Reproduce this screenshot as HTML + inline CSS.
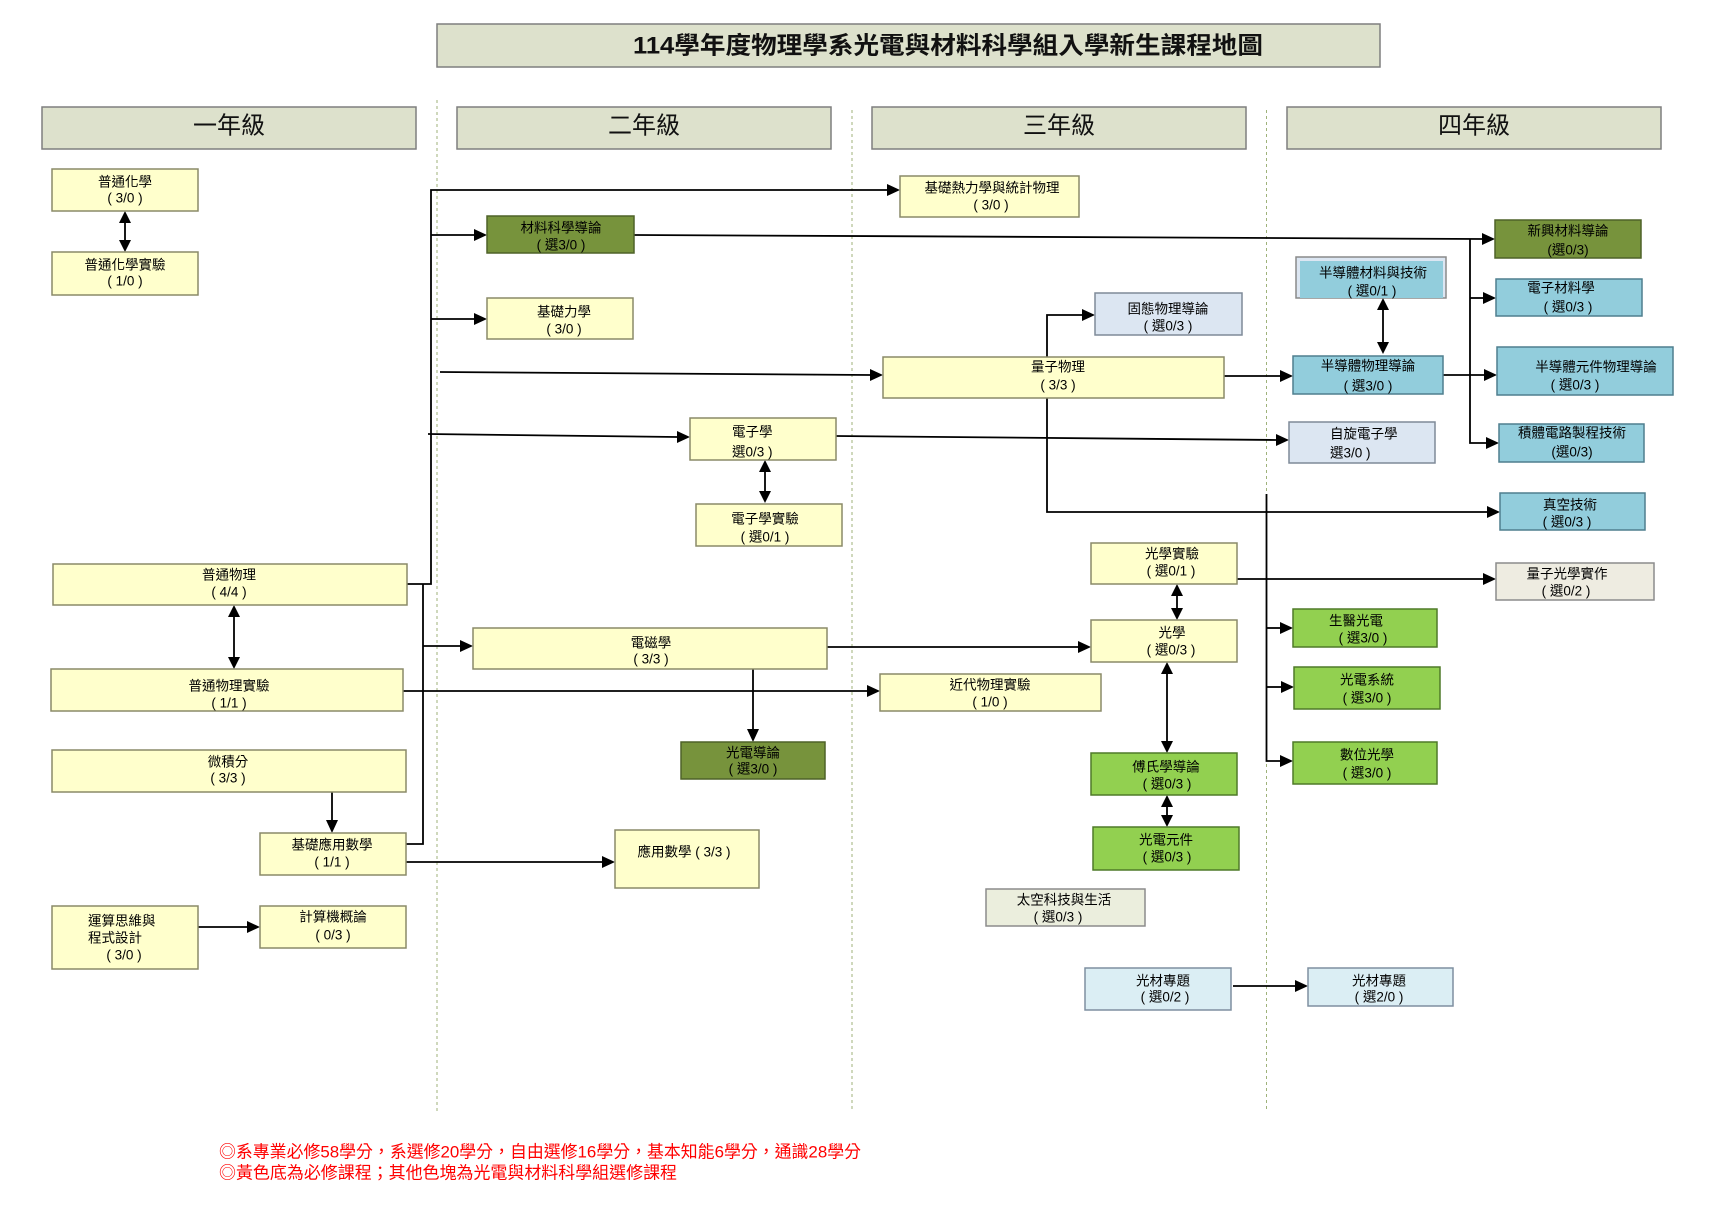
<!DOCTYPE html>
<html>
<head>
<meta charset="utf-8">
<style>
html,body{margin:0;padding:0;background:#fff;}
svg{display:block;}
text{font-family:"Liberation Sans","Noto Sans CJK TC",sans-serif;}
.t{font-size:13.5px;fill:#000;dominant-baseline:central;text-anchor:middle;}
.tl{font-size:13.5px;fill:#000;dominant-baseline:central;text-anchor:start;}
.hd{font-size:24px;fill:#111;dominant-baseline:central;text-anchor:middle;}
.Y{fill:#ffffcc;stroke:#8a8a68;stroke-width:1.5;}
.O{fill:#77933c;stroke:#4f6228;stroke-width:1.5;}
.B{fill:#92cddc;stroke:#4f7f8e;stroke-width:1.5;}
.LB{fill:#dce6f2;stroke:#7f8a98;stroke-width:1.5;}
.G{fill:#92d050;stroke:#4f7a28;stroke-width:1.5;}
.BG{fill:#eeece1;stroke:#8c8c8c;stroke-width:1.5;}
.SG{fill:#ebeedd;stroke:#8c8c8c;stroke-width:1.5;}
.PB{fill:#dbeef4;stroke:#7f8fa0;stroke-width:1.5;}
.H{fill:#dde1cc;stroke:#7f7f7f;stroke-width:1.5;}
.c{fill:none;stroke:#000;stroke-width:1.8;}
.sep{stroke:#9fb27a;stroke-width:1;stroke-dasharray:3,3;fill:none;}
</style>
</head>
<body>
<svg width="1712" height="1229" viewBox="0 0 1712 1229" xmlns="http://www.w3.org/2000/svg">
<rect x="0" y="0" width="1712" height="1229" fill="#fff"/>

<!-- Title -->
<rect class="H" x="437" y="24" width="943" height="43"/>
<text x="633" y="46" font-size="24" font-weight="bold" dominant-baseline="central" textLength="630" lengthAdjust="spacingAndGlyphs" fill="#111">114學年度物理學系光電與材料科學組入學新生課程地圖</text>

<!-- Separators -->
<line class="sep" x1="437" y1="100" x2="437" y2="1112"/>
<line class="sep" x1="852" y1="110" x2="852" y2="1112"/>
<line class="sep" x1="1266.5" y1="110" x2="1266.5" y2="1112"/>

<!-- Headers -->
<rect class="H" x="42" y="107" width="374" height="42"/>
<text class="hd" x="229" y="126">一年級</text>
<rect class="H" x="457" y="107" width="374" height="42"/>
<text class="hd" x="644" y="126">二年級</text>
<rect class="H" x="872" y="107" width="374" height="42"/>
<text class="hd" x="1059" y="126">三年級</text>
<rect class="H" x="1287" y="107" width="374" height="42"/>
<text class="hd" x="1474" y="126">四年級</text>

<!-- Connectors -->
<g class="c">
<path d="M125 222 V241"/>
<path d="M402 584 H431 V190 H887"/>
<path d="M431 235 H474"/>
<path d="M431 319 H474"/>
<path d="M440 372 L870 375"/>
<path d="M428 434 L677 437"/>
<path d="M405 844 H423 V584"/>
<path d="M423 646 H460"/>
<path d="M403 691 H867"/>
<path d="M827 647 H1078"/>
<path d="M753 669 V729"/>
<path d="M332 792 V820"/>
<path d="M406 862 H602"/>
<path d="M198 927 H247"/>
<path d="M634 235 L1482 239"/>
<path d="M1470 239 V443 H1486"/>
<path d="M1470 298 H1483"/>
<path d="M1443 375 H1484"/>
<path d="M1383 309 V345"/>
<path d="M1047 357 V315 H1082"/>
<path d="M1224 376 H1280"/>
<path d="M1047 398 V512 H1487"/>
<path d="M836 436 L1276 440"/>
<path d="M1266.5 494 V761 H1280"/>
<path d="M1266.5 628 H1280"/>
<path d="M1266.5 687 H1281"/>
<path d="M1237 579 H1483"/>
<path d="M1177 595 V609"/>
<path d="M1167 673 V742"/>
<path d="M1167 806 V816"/>
<path d="M765 471 V492"/>
<path d="M234 616 V658"/>
<path d="M1233 986 H1295"/>
</g>

<!-- Arrowheads -->
<g fill="#000">
<polygon points="125,211 119,223 131,223"/>
<polygon points="125,252 119,240 131,240"/>
<polygon points="900,190 887,184 887,196"/>
<polygon points="487,235 474,229 474,241"/>
<polygon points="487,319 474,313 474,325"/>
<polygon points="883,375 870,369 870,381"/>
<polygon points="690,437 677,431 677,443"/>
<polygon points="473,646 460,640 460,652"/>
<polygon points="880,691 867,685 867,697"/>
<polygon points="1091,647 1078,641 1078,653"/>
<polygon points="753,742 747,729 759,729"/>
<polygon points="332,833 326,820 338,820"/>
<polygon points="615,862 602,856 602,868"/>
<polygon points="260,927 247,921 247,933"/>
<polygon points="1495,239 1482,233 1482,245"/>
<polygon points="1499,443 1486,437 1486,449"/>
<polygon points="1496,298 1483,292 1483,304"/>
<polygon points="1497,375 1484,369 1484,381"/>
<polygon points="1095,315 1082,309 1082,321"/>
<polygon points="1293,376 1280,370 1280,382"/>
<polygon points="1500,512 1487,506 1487,518"/>
<polygon points="1289,440 1276,434 1276,446"/>
<polygon points="1293,761 1280,755 1280,767"/>
<polygon points="1293,628 1280,622 1280,634"/>
<polygon points="1294,687 1281,681 1281,693"/>
<polygon points="1496,579 1483,573 1483,585"/>
<polygon points="1308,986 1295,980 1295,992"/>
<polygon points="1383,298 1377,310 1389,310"/>
<polygon points="1383,354 1377,342 1389,342"/>
<polygon points="1177,584 1171,596 1183,596"/>
<polygon points="1177,620 1171,608 1183,608"/>
<polygon points="1167,662 1161,674 1173,674"/>
<polygon points="1167,753 1161,741 1173,741"/>
<polygon points="1167,795 1161,807 1173,807"/>
<polygon points="1167,827 1161,815 1173,815"/>
<polygon points="765,460 759,472 771,472"/>
<polygon points="765,503 759,491 771,491"/>
<polygon points="234,605 228,617 240,617"/>
<polygon points="234,669 228,657 240,657"/>
</g>

<!-- Boxes -->
<rect class="Y" x="52" y="169" width="146" height="42"/>
<text class="t" x="125" y="182">普通化學</text><text class="t" x="125" y="198">( 3/0 )</text>

<rect class="Y" x="52" y="252" width="146" height="43"/>
<text class="t" x="125" y="265">普通化學實驗</text><text class="t" x="125" y="281">( 1/0 )</text>

<rect class="O" x="487" y="216" width="147" height="37"/>
<text class="t" x="561" y="228">材料科學導論</text><text class="t" x="561" y="245">( 選3/0 )</text>

<rect class="Y" x="487" y="298" width="146" height="41"/>
<text class="t" x="564" y="312">基礎力學</text><text class="t" x="564" y="329">( 3/0 )</text>

<rect class="Y" x="900" y="176" width="179" height="41"/>
<text class="t" x="992" y="188">基礎熱力學與統計物理</text><text class="t" x="991" y="205">( 3/0 )</text>

<rect class="O" x="1495" y="220" width="146" height="38"/>
<text class="t" x="1568" y="231">新興材料導論</text><text class="t" x="1568" y="250">(選0/3)</text>

<rect x="1296" y="257" width="150" height="41" fill="#dce6f2" stroke="#8a8a8a" stroke-width="1.5"/>
<rect x="1300" y="261" width="143" height="37" fill="#92cddc"/>
<text class="t" x="1373" y="273">半導體材料與技術</text><text class="t" x="1372" y="291">( 選0/1 )</text>

<rect class="B" x="1496" y="279" width="146" height="37"/>
<text class="t" x="1561" y="288">電子材料學</text><text class="t" x="1568" y="307">( 選0/3 )</text>

<rect class="LB" x="1095" y="293" width="147" height="42"/>
<text class="t" x="1168" y="309">固態物理導論</text><text class="t" x="1168" y="326">( 選0/3 )</text>

<rect class="Y" x="883" y="357" width="341" height="41"/>
<text class="t" x="1058" y="367">量子物理</text><text class="t" x="1058" y="385">( 3/3 )</text>

<rect class="B" x="1293" y="356" width="150" height="38"/>
<text class="t" x="1368" y="366">半導體物理導論</text><text class="t" x="1368" y="386">( 選3/0 )</text>

<rect class="B" x="1497" y="347" width="176" height="48"/>
<text class="t" x="1596" y="367">半導體元件物理導論</text><text class="t" x="1575" y="385">( 選0/3 )</text>

<rect class="Y" x="690" y="418" width="146" height="42"/>
<text class="tl" x="732" y="432">電子學</text><text class="tl" x="732" y="452">選0/3 )</text>

<rect class="LB" x="1289" y="422" width="146" height="41"/>
<text class="tl" x="1330" y="434">自旋電子學</text><text class="tl" x="1330" y="453">選3/0 )</text>

<rect class="B" x="1499" y="424" width="145" height="38"/>
<text class="t" x="1572" y="433">積體電路製程技術</text><text class="t" x="1572" y="452">(選0/3)</text>

<rect class="Y" x="696" y="504" width="146" height="42"/>
<text class="t" x="765" y="519">電子學實驗</text><text class="t" x="765" y="537">( 選0/1 )</text>

<rect class="B" x="1500" y="493" width="145" height="37"/>
<text class="t" x="1570" y="505">真空技術</text><text class="t" x="1567" y="522">( 選0/3 )</text>

<rect class="Y" x="1091" y="543" width="146" height="41"/>
<text class="t" x="1172" y="554">光學實驗</text><text class="t" x="1171" y="571">( 選0/1 )</text>

<rect class="BG" x="1496" y="563" width="158" height="37"/>
<text class="t" x="1567" y="574">量子光學實作</text><text class="t" x="1566" y="591">( 選0/2 )</text>

<rect class="Y" x="53" y="564" width="354" height="41"/>
<text class="t" x="229" y="575">普通物理</text><text class="t" x="229" y="592">( 4/4 )</text>

<rect class="G" x="1293" y="609" width="144" height="38"/>
<text class="t" x="1356" y="621">生醫光電</text><text class="t" x="1363" y="638">( 選3/0 )</text>

<rect class="Y" x="1091" y="620" width="146" height="42"/>
<text class="t" x="1172" y="633">光學</text><text class="t" x="1171" y="650">( 選0/3 )</text>

<rect class="Y" x="473" y="628" width="354" height="41"/>
<text class="t" x="651" y="643">電磁學</text><text class="t" x="651" y="659">( 3/3 )</text>

<rect class="Y" x="51" y="669" width="352" height="42"/>
<text class="t" x="229" y="686">普通物理實驗</text><text class="t" x="229" y="703">( 1/1 )</text>

<rect class="G" x="1294" y="667" width="146" height="42"/>
<text class="t" x="1367" y="680">光電系統</text><text class="t" x="1367" y="698">( 選3/0 )</text>

<rect class="Y" x="880" y="674" width="221" height="37"/>
<text class="t" x="990" y="685">近代物理實驗</text><text class="t" x="990" y="702">( 1/0 )</text>

<rect class="O" x="681" y="742" width="144" height="37"/>
<text class="t" x="753" y="753">光電導論</text><text class="t" x="753" y="769">( 選3/0 )</text>

<rect class="Y" x="52" y="750" width="354" height="42"/>
<text class="t" x="228" y="762">微積分</text><text class="t" x="228" y="778">( 3/3 )</text>

<rect class="G" x="1293" y="742" width="144" height="42"/>
<text class="t" x="1367" y="755">數位光學</text><text class="t" x="1367" y="773">( 選3/0 )</text>

<rect class="G" x="1091" y="753" width="146" height="42"/>
<text class="t" x="1166" y="767">傅氏學導論</text><text class="t" x="1167" y="784">( 選0/3 )</text>

<rect class="G" x="1093" y="827" width="146" height="43"/>
<text class="t" x="1166" y="840">光電元件</text><text class="t" x="1167" y="857">( 選0/3 )</text>

<rect class="Y" x="260" y="833" width="146" height="42"/>
<text class="t" x="332" y="845">基礎應用數學</text><text class="t" x="332" y="862">( 1/1 )</text>

<rect class="Y" x="615" y="830" width="144" height="58"/>
<text class="t" x="684" y="852">應用數學 ( 3/3 )</text>

<rect class="SG" x="986" y="889" width="159" height="37"/>
<text class="t" x="1064" y="900">太空科技與生活</text><text class="t" x="1058" y="917">( 選0/3 )</text>

<rect class="Y" x="52" y="906" width="146" height="63"/>
<text class="tl" x="88" y="921">運算思維與</text><text class="tl" x="88" y="938">程式設計</text><text class="t" x="124" y="955">( 3/0 )</text>

<rect class="Y" x="260" y="906" width="146" height="42"/>
<text class="t" x="333" y="917">計算機概論</text><text class="t" x="333" y="935">( 0/3 )</text>

<rect class="PB" x="1085" y="968" width="146" height="42"/>
<text class="t" x="1163" y="981">光材專題</text><text class="t" x="1165" y="997">( 選0/2 )</text>

<rect class="PB" x="1308" y="968" width="145" height="38"/>
<text class="t" x="1379" y="981">光材專題</text><text class="t" x="1379" y="997">( 選2/0 )</text>

<!-- Footer -->
<text x="219" y="1152" font-size="17" fill="#ff0000" dominant-baseline="central" textLength="642" lengthAdjust="spacingAndGlyphs">◎系專業必修58學分，系選修20學分，自由選修16學分，基本知能6學分，通識28學分</text>
<text x="219" y="1173" font-size="17" fill="#ff0000" dominant-baseline="central" textLength="458" lengthAdjust="spacingAndGlyphs">◎黃色底為必修課程；其他色塊為光電與材料科學組選修課程</text>
</svg>
</body>
</html>
